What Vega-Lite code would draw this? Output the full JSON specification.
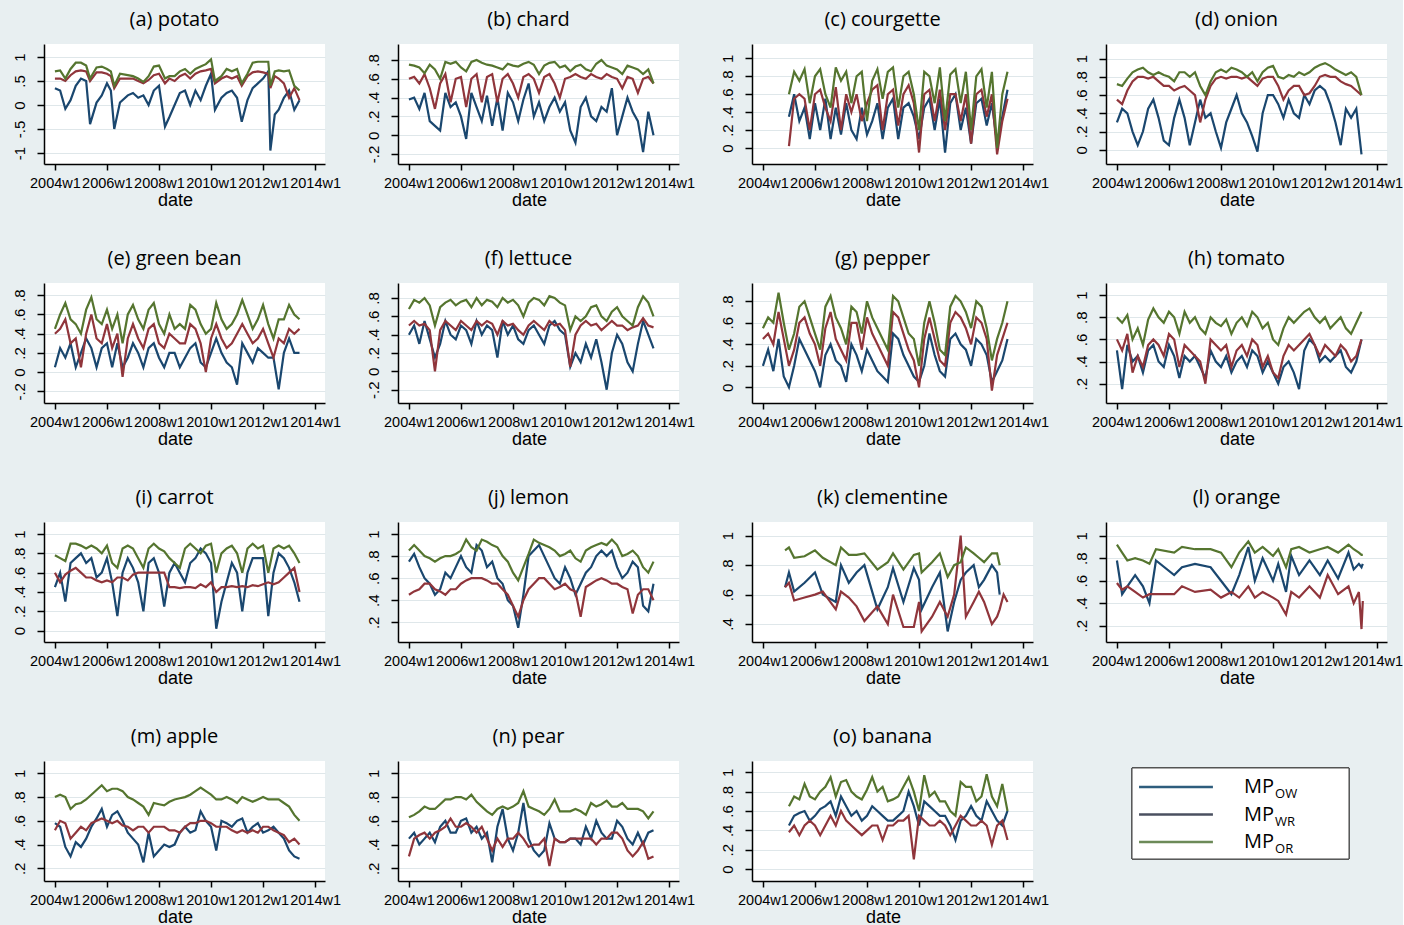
{
"$schema":"https://vega.github.io/schema/vega-lite/v6.json",
"background":"#E8EFF1",
"padding":{"left":11,"top":10,"right":0,"bottom":0},
"config":{
"view":{"fill":"white","stroke":null},
"title":{"font":"Open Sans","fontSize":20,"fontWeight":"normal","color":"#000","anchor":"middle","offset":14,"dx":-10},
"axis":{"domainColor":"#000","tickColor":"#000","labelColor":"#000","titleColor":"#000","labelFont":"Liberation Sans","titleFont":"Liberation Sans","titleFontWeight":"normal","domainWidth":1.5,"tickWidth":1.5,"tickSize":6},
"axisX":{"grid":false,"labelFontSize":14.5,"labelOverlap":false,"labelFlush":false,"labelPadding":6,"titleFontSize":18,"titleX":131,"titleY":36,"titleBaseline":"middle"},
"axisY":{"grid":true,"gridColor":"#DFE7EA","gridWidth":1,"labelAngle":-90,"labelAlign":"center","labelBaseline":"bottom","labelFontSize":15,"labelPadding":10,"tickSize":7},
"line":{"strokeWidth":2.2}
},
"datasets":{
"a":[
{"t":2004,"ow":0.35,"wr":0.55,"or":0.7},{"t":2004.2,"ow":0.3,"wr":0.55,"or":0.72},{"t":2004.4,"ow":-0.08,"wr":0.5,"or":0.55},{"t":2004.6,"ow":0.1,"wr":0.62,"or":0.75},{"t":2004.8,"ow":0.4,"wr":0.7,"or":0.88},{"t":2005,"ow":0.55,"wr":0.72,"or":0.88},{"t":2005.2,"ow":0.5,"wr":0.7,"or":0.82},{"t":2005.35,"ow":-0.4,"wr":0.5,"or":0.55},{"t":2005.6,"ow":0.05,"wr":0.68,"or":0.78},{"t":2005.8,"ow":0.2,"wr":0.68,"or":0.8},{"t":2006,"ow":0.45,"wr":0.65,"or":0.75},{"t":2006.15,"ow":0.3,"wr":0.6,"or":0.7},{"t":2006.28,"ow":-0.5,"wr":0.35,"or":0.4},{"t":2006.5,"ow":0.05,"wr":0.55,"or":0.65},{"t":2006.8,"ow":0.2,"wr":0.55,"or":0.62},{"t":2007,"ow":0.25,"wr":0.55,"or":0.6},{"t":2007.2,"ow":0.15,"wr":0.5,"or":0.55},{"t":2007.4,"ow":0.2,"wr":0.45,"or":0.48},{"t":2007.6,"ow":0,"wr":0.52,"or":0.6},{"t":2007.8,"ow":0.3,"wr":0.62,"or":0.8},{"t":2008,"ow":0.4,"wr":0.65,"or":0.82},{"t":2008.23,"ow":-0.45,"wr":0.45,"or":0.55},{"t":2008.4,"ow":-0.25,"wr":0.55,"or":0.6},{"t":2008.6,"ow":0,"wr":0.5,"or":0.6},{"t":2008.8,"ow":0.25,"wr":0.6,"or":0.7},{"t":2009,"ow":0.3,"wr":0.65,"or":0.75},{"t":2009.2,"ow":0,"wr":0.55,"or":0.65},{"t":2009.4,"ow":0.3,"wr":0.65,"or":0.75},{"t":2009.6,"ow":0.1,"wr":0.7,"or":0.8},{"t":2009.8,"ow":0.4,"wr":0.72,"or":0.85},{"t":2010,"ow":0.65,"wr":0.75,"or":0.95},{"t":2010.15,"ow":-0.1,"wr":0.45,"or":0.5},{"t":2010.4,"ow":0.15,"wr":0.55,"or":0.6},{"t":2010.6,"ow":0.25,"wr":0.6,"or":0.75},{"t":2010.8,"ow":0.3,"wr":0.55,"or":0.7},{"t":2011,"ow":0.15,"wr":0.6,"or":0.75},{"t":2011.18,"ow":-0.35,"wr":0.4,"or":0.45},{"t":2011.4,"ow":0.1,"wr":0.6,"or":0.65},{"t":2011.6,"ow":0.35,"wr":0.68,"or":0.88},{"t":2011.8,"ow":0.45,"wr":0.7,"or":0.9},{"t":2012,"ow":0.55,"wr":0.68,"or":0.9},{"t":2012.2,"ow":0.7,"wr":0.65,"or":0.9},{"t":2012.28,"ow":-0.95,"wr":0.35,"or":0.4},{"t":2012.45,"ow":-0.2,"wr":0.6,"or":0.7},{"t":2012.6,"ow":-0.1,"wr":0.55,"or":0.72},{"t":2012.8,"ow":0.15,"wr":0.45,"or":0.7},{"t":2013,"ow":0.3,"wr":0.15,"or":0.72},{"t":2013.2,"ow":-0.1,"wr":0.35,"or":0.4},{"t":2013.4,"ow":0.1,"wr":0.1,"or":0.3}],
"b":[
{"t":2004,"ow":0.38,"wr":0.6,"or":0.75},{"t":2004.2,"ow":0.4,"wr":0.62,"or":0.74},{"t":2004.4,"ow":0.28,"wr":0.55,"or":0.72},{"t":2004.6,"ow":0.45,"wr":0.65,"or":0.66},{"t":2004.8,"ow":0.15,"wr":0.5,"or":0.75},{"t":2005,"ow":0.1,"wr":0.28,"or":0.7},{"t":2005.2,"ow":0.05,"wr":0.55,"or":0.6},{"t":2005.4,"ow":0.45,"wr":0.65,"or":0.78},{"t":2005.6,"ow":0.3,"wr":0.35,"or":0.76},{"t":2005.8,"ow":0.35,"wr":0.6,"or":0.78},{"t":2006,"ow":0.2,"wr":0.62,"or":0.72},{"t":2006.2,"ow":-0.04,"wr":0.3,"or":0.68},{"t":2006.4,"ow":0.45,"wr":0.6,"or":0.78},{"t":2006.6,"ow":0.3,"wr":0.65,"or":0.8},{"t":2006.8,"ow":0.15,"wr":0.35,"or":0.77},{"t":2007,"ow":0.42,"wr":0.62,"or":0.75},{"t":2007.2,"ow":0.1,"wr":0.65,"or":0.74},{"t":2007.4,"ow":0.4,"wr":0.35,"or":0.72},{"t":2007.6,"ow":0.05,"wr":0.6,"or":0.7},{"t":2007.8,"ow":0.45,"wr":0.65,"or":0.76},{"t":2008,"ow":0.35,"wr":0.55,"or":0.74},{"t":2008.2,"ow":0.15,"wr":0.4,"or":0.73},{"t":2008.4,"ow":0.38,"wr":0.62,"or":0.76},{"t":2008.6,"ow":0.55,"wr":0.65,"or":0.78},{"t":2008.8,"ow":0.2,"wr":0.6,"or":0.75},{"t":2009,"ow":0.35,"wr":0.45,"or":0.65},{"t":2009.2,"ow":0.15,"wr":0.62,"or":0.74},{"t":2009.4,"ow":0.3,"wr":0.65,"or":0.77},{"t":2009.6,"ow":0.4,"wr":0.55,"or":0.78},{"t":2009.8,"ow":0.25,"wr":0.4,"or":0.72},{"t":2010,"ow":0.35,"wr":0.6,"or":0.74},{"t":2010.2,"ow":0.05,"wr":0.62,"or":0.68},{"t":2010.4,"ow":-0.08,"wr":0.65,"or":0.73},{"t":2010.6,"ow":0.3,"wr":0.62,"or":0.75},{"t":2010.8,"ow":0.4,"wr":0.6,"or":0.7},{"t":2011,"ow":0.2,"wr":0.65,"or":0.68},{"t":2011.2,"ow":0.15,"wr":0.62,"or":0.76},{"t":2011.4,"ow":0.3,"wr":0.6,"or":0.8},{"t":2011.6,"ow":0.25,"wr":0.65,"or":0.74},{"t":2011.8,"ow":0.5,"wr":0.62,"or":0.72},{"t":2012,"ow":0,"wr":0.6,"or":0.7},{"t":2012.2,"ow":0.2,"wr":0.5,"or":0.65},{"t":2012.4,"ow":0.4,"wr":0.62,"or":0.74},{"t":2012.6,"ow":0.25,"wr":0.6,"or":0.72},{"t":2012.8,"ow":0.15,"wr":0.45,"or":0.7},{"t":2013,"ow":-0.18,"wr":0.6,"or":0.65},{"t":2013.2,"ow":0.25,"wr":0.62,"or":0.7},{"t":2013.4,"ow":0,"wr":0.55,"or":0.55}],
"c":[
{"t":2005,"ow":0.35,"wr":0.02,"or":0.6},{"t":2005.2,"ow":0.6,"wr":0.55,"or":0.85},{"t":2005.4,"ow":0.3,"wr":0.6,"or":0.75},{"t":2005.6,"ow":0.45,"wr":0.55,"or":0.88},{"t":2005.8,"ow":0.1,"wr":0.2,"or":0.5},{"t":2006,"ow":0.5,"wr":0.6,"or":0.8},{"t":2006.2,"ow":0.2,"wr":0.65,"or":0.88},{"t":2006.4,"ow":0.55,"wr":0.45,"or":0.6},{"t":2006.6,"ow":0.1,"wr":0.3,"or":0.45},{"t":2006.8,"ow":0.45,"wr":0.68,"or":0.9},{"t":2007,"ow":0.15,"wr":0.2,"or":0.75},{"t":2007.2,"ow":0.5,"wr":0.6,"or":0.85},{"t":2007.4,"ow":0.2,"wr":0.4,"or":0.5},{"t":2007.6,"ow":0.1,"wr":0.6,"or":0.8},{"t":2007.8,"ow":0.45,"wr":0.3,"or":0.85},{"t":2008,"ow":0.15,"wr":0.5,"or":0.3},{"t":2008.2,"ow":0.3,"wr":0.65,"or":0.75},{"t":2008.4,"ow":0.5,"wr":0.7,"or":0.88},{"t":2008.6,"ow":0.1,"wr":0.2,"or":0.55},{"t":2008.8,"ow":0.45,"wr":0.6,"or":0.85},{"t":2009,"ow":0.55,"wr":0.65,"or":0.9},{"t":2009.2,"ow":0.1,"wr":0.25,"or":0.45},{"t":2009.4,"ow":0.45,"wr":0.6,"or":0.8},{"t":2009.6,"ow":0.5,"wr":0.7,"or":0.85},{"t":2009.8,"ow":0.35,"wr":0.5,"or":0.6},{"t":2010,"ow":0.1,"wr":-0.05,"or":0.2},{"t":2010.2,"ow":0.45,"wr":0.6,"or":0.85},{"t":2010.4,"ow":0.55,"wr":0.65,"or":0.8},{"t":2010.6,"ow":0.2,"wr":0.3,"or":0.5},{"t":2010.8,"ow":0.55,"wr":0.65,"or":0.9},{"t":2011,"ow":-0.05,"wr":0.2,"or":0.3},{"t":2011.2,"ow":0.5,"wr":0.6,"or":0.82},{"t":2011.4,"ow":0.6,"wr":0.6,"or":0.88},{"t":2011.6,"ow":0.2,"wr":0.3,"or":0.5},{"t":2011.8,"ow":0.45,"wr":0.6,"or":0.85},{"t":2012,"ow":0.05,"wr":0.05,"or":0.2},{"t":2012.2,"ow":0.5,"wr":0.6,"or":0.8},{"t":2012.4,"ow":0.55,"wr":0.65,"or":0.88},{"t":2012.6,"ow":0.25,"wr":0.35,"or":0.45},{"t":2012.8,"ow":0.5,"wr":0.6,"or":0.85},{"t":2013,"ow":0.05,"wr":-0.07,"or":0},{"t":2013.2,"ow":0.35,"wr":0.3,"or":0.6},{"t":2013.4,"ow":0.65,"wr":0.55,"or":0.85}],
"d":[
{"t":2004,"ow":0.3,"wr":0.55,"or":0.72},{"t":2004.2,"ow":0.45,"wr":0.5,"or":0.7},{"t":2004.4,"ow":0.4,"wr":0.65,"or":0.78},{"t":2004.6,"ow":0.2,"wr":0.75,"or":0.85},{"t":2004.8,"ow":0.05,"wr":0.8,"or":0.88},{"t":2005,"ow":0.2,"wr":0.8,"or":0.9},{"t":2005.2,"ow":0.45,"wr":0.78,"or":0.85},{"t":2005.4,"ow":0.55,"wr":0.8,"or":0.82},{"t":2005.6,"ow":0.35,"wr":0.75,"or":0.85},{"t":2005.8,"ow":0.1,"wr":0.7,"or":0.82},{"t":2006,"ow":0.05,"wr":0.7,"or":0.8},{"t":2006.2,"ow":0.35,"wr":0.65,"or":0.75},{"t":2006.4,"ow":0.55,"wr":0.68,"or":0.85},{"t":2006.6,"ow":0.35,"wr":0.7,"or":0.85},{"t":2006.8,"ow":0.05,"wr":0.65,"or":0.8},{"t":2007,"ow":0.3,"wr":0.6,"or":0.85},{"t":2007.2,"ow":0.55,"wr":0.3,"or":0.7},{"t":2007.4,"ow":0.35,"wr":0.55,"or":0.6},{"t":2007.6,"ow":0.4,"wr":0.7,"or":0.75},{"t":2007.8,"ow":0.2,"wr":0.78,"or":0.85},{"t":2008,"ow":0.02,"wr":0.8,"or":0.88},{"t":2008.2,"ow":0.3,"wr":0.78,"or":0.85},{"t":2008.4,"ow":0.45,"wr":0.8,"or":0.9},{"t":2008.6,"ow":0.6,"wr":0.8,"or":0.88},{"t":2008.8,"ow":0.4,"wr":0.78,"or":0.85},{"t":2009,"ow":0.3,"wr":0.8,"or":0.8},{"t":2009.2,"ow":0.15,"wr":0.75,"or":0.85},{"t":2009.4,"ow":-0.02,"wr":0.7,"or":0.75},{"t":2009.6,"ow":0.4,"wr":0.78,"or":0.85},{"t":2009.8,"ow":0.6,"wr":0.8,"or":0.9},{"t":2010,"ow":0.6,"wr":0.8,"or":0.92},{"t":2010.2,"ow":0.5,"wr":0.7,"or":0.8},{"t":2010.4,"ow":0.35,"wr":0.55,"or":0.78},{"t":2010.6,"ow":0.55,"wr":0.65,"or":0.82},{"t":2010.8,"ow":0.4,"wr":0.7,"or":0.8},{"t":2011,"ow":0.35,"wr":0.7,"or":0.85},{"t":2011.2,"ow":0.6,"wr":0.6,"or":0.82},{"t":2011.4,"ow":0.5,"wr":0.62,"or":0.85},{"t":2011.6,"ow":0.65,"wr":0.7,"or":0.9},{"t":2011.8,"ow":0.7,"wr":0.8,"or":0.93},{"t":2012,"ow":0.65,"wr":0.82,"or":0.95},{"t":2012.2,"ow":0.5,"wr":0.8,"or":0.92},{"t":2012.4,"ow":0.3,"wr":0.8,"or":0.88},{"t":2012.6,"ow":0.05,"wr":0.75,"or":0.85},{"t":2012.8,"ow":0.45,"wr":0.72,"or":0.82},{"t":2013,"ow":0.35,"wr":0.7,"or":0.85},{"t":2013.2,"ow":0.45,"wr":0.65,"or":0.8},{"t":2013.4,"ow":-0.05,"wr":0.6,"or":0.6}],
"e":[
{"t":2004,"ow":0.05,"wr":0.4,"or":0.45},{"t":2004.2,"ow":0.25,"wr":0.45,"or":0.6},{"t":2004.4,"ow":0.15,"wr":0.55,"or":0.72},{"t":2004.6,"ow":0.3,"wr":0.3,"or":0.55},{"t":2004.8,"ow":0.05,"wr":0.35,"or":0.5},{"t":2005,"ow":0.2,"wr":0.05,"or":0.4},{"t":2005.2,"ow":0.35,"wr":0.4,"or":0.65},{"t":2005.4,"ow":0.25,"wr":0.6,"or":0.78},{"t":2005.6,"ow":0.05,"wr":0.35,"or":0.55},{"t":2005.8,"ow":0.25,"wr":0.3,"or":0.5},{"t":2006,"ow":0.3,"wr":0.5,"or":0.65},{"t":2006.2,"ow":0.05,"wr":0.25,"or":0.45},{"t":2006.4,"ow":0.3,"wr":0.4,"or":0.6},{"t":2006.6,"ow":0.05,"wr":-0.05,"or":0.3},{"t":2006.8,"ow":0.15,"wr":0.35,"or":0.6},{"t":2007,"ow":0.3,"wr":0.5,"or":0.7},{"t":2007.2,"ow":0.2,"wr":0.35,"or":0.55},{"t":2007.4,"ow":0.05,"wr":0.25,"or":0.45},{"t":2007.6,"ow":0.25,"wr":0.45,"or":0.65},{"t":2007.8,"ow":0.3,"wr":0.5,"or":0.72},{"t":2008,"ow":0.15,"wr":0.3,"or":0.5},{"t":2008.2,"ow":0.05,"wr":0.25,"or":0.4},{"t":2008.4,"ow":0.2,"wr":0.4,"or":0.6},{"t":2008.6,"ow":0.2,"wr":0.35,"or":0.45},{"t":2008.8,"ow":0.05,"wr":0.3,"or":0.5},{"t":2009,"ow":0.15,"wr":0.3,"or":0.45},{"t":2009.2,"ow":0.25,"wr":0.5,"or":0.7},{"t":2009.4,"ow":0.3,"wr":0.45,"or":0.65},{"t":2009.6,"ow":0.1,"wr":0.3,"or":0.5},{"t":2009.8,"ow":0.05,"wr":0,"or":0.4},{"t":2010,"ow":0.2,"wr":0.35,"or":0.45},{"t":2010.2,"ow":0.35,"wr":0.5,"or":0.72},{"t":2010.4,"ow":0.2,"wr":0.35,"or":0.55},{"t":2010.6,"ow":0.1,"wr":0.25,"or":0.45},{"t":2010.8,"ow":0.05,"wr":0.3,"or":0.5},{"t":2011,"ow":-0.13,"wr":0.4,"or":0.6},{"t":2011.2,"ow":0.3,"wr":0.5,"or":0.75},{"t":2011.4,"ow":0.2,"wr":0.4,"or":0.6},{"t":2011.6,"ow":0.1,"wr":0.3,"or":0.45},{"t":2011.8,"ow":0.25,"wr":0.35,"or":0.55},{"t":2012,"ow":0.2,"wr":0.45,"or":0.7},{"t":2012.2,"ow":0.15,"wr":0.3,"or":0.5},{"t":2012.4,"ow":0.15,"wr":0.15,"or":0.35},{"t":2012.6,"ow":-0.18,"wr":0.35,"or":0.55},{"t":2012.8,"ow":0.2,"wr":0.3,"or":0.55},{"t":2013,"ow":0.35,"wr":0.45,"or":0.7},{"t":2013.2,"ow":0.2,"wr":0.4,"or":0.6},{"t":2013.4,"ow":0.2,"wr":0.45,"or":0.55}],
"f":[
{"t":2004,"ow":0.4,"wr":0.5,"or":0.68},{"t":2004.2,"ow":0.5,"wr":0.55,"or":0.78},{"t":2004.4,"ow":0.3,"wr":0.5,"or":0.75},{"t":2004.6,"ow":0.55,"wr":0.52,"or":0.8},{"t":2004.8,"ow":0.35,"wr":0.45,"or":0.72},{"t":2005,"ow":0.15,"wr":0,"or":0.5},{"t":2005.2,"ow":0.3,"wr":0.45,"or":0.7},{"t":2005.4,"ow":0.55,"wr":0.55,"or":0.75},{"t":2005.6,"ow":0.4,"wr":0.5,"or":0.78},{"t":2005.8,"ow":0.35,"wr":0.45,"or":0.72},{"t":2006,"ow":0.5,"wr":0.55,"or":0.76},{"t":2006.2,"ow":0.45,"wr":0.5,"or":0.78},{"t":2006.4,"ow":0.3,"wr":0.45,"or":0.7},{"t":2006.6,"ow":0.55,"wr":0.55,"or":0.8},{"t":2006.8,"ow":0.4,"wr":0.5,"or":0.72},{"t":2007,"ow":0.5,"wr":0.55,"or":0.78},{"t":2007.2,"ow":0.45,"wr":0.52,"or":0.76},{"t":2007.4,"ow":0.15,"wr":0.4,"or":0.7},{"t":2007.6,"ow":0.55,"wr":0.55,"or":0.8},{"t":2007.8,"ow":0.4,"wr":0.5,"or":0.75},{"t":2008,"ow":0.5,"wr":0.52,"or":0.78},{"t":2008.2,"ow":0.35,"wr":0.45,"or":0.72},{"t":2008.4,"ow":0.3,"wr":0.4,"or":0.6},{"t":2008.6,"ow":0.45,"wr":0.5,"or":0.75},{"t":2008.8,"ow":0.5,"wr":0.55,"or":0.8},{"t":2009,"ow":0.4,"wr":0.5,"or":0.78},{"t":2009.2,"ow":0.3,"wr":0.45,"or":0.72},{"t":2009.4,"ow":0.5,"wr":0.55,"or":0.82},{"t":2009.6,"ow":0.55,"wr":0.5,"or":0.8},{"t":2009.8,"ow":0.45,"wr":0.52,"or":0.75},{"t":2010,"ow":0.4,"wr":0.45,"or":0.72},{"t":2010.2,"ow":0.05,"wr":0.05,"or":0.45},{"t":2010.4,"ow":0.2,"wr":0.4,"or":0.6},{"t":2010.6,"ow":0.1,"wr":0.5,"or":0.55},{"t":2010.8,"ow":0.3,"wr":0.55,"or":0.6},{"t":2011,"ow":0.15,"wr":0.5,"or":0.7},{"t":2011.2,"ow":0.35,"wr":0.52,"or":0.72},{"t":2011.4,"ow":0.1,"wr":0.45,"or":0.6},{"t":2011.6,"ow":-0.2,"wr":0.5,"or":0.55},{"t":2011.8,"ow":0.2,"wr":0.55,"or":0.65},{"t":2012,"ow":0.4,"wr":0.5,"or":0.7},{"t":2012.2,"ow":0.3,"wr":0.5,"or":0.6},{"t":2012.4,"ow":0.1,"wr":0.45,"or":0.55},{"t":2012.6,"ow":0,"wr":0.48,"or":0.5},{"t":2012.8,"ow":0.3,"wr":0.5,"or":0.7},{"t":2013,"ow":0.55,"wr":0.58,"or":0.82},{"t":2013.2,"ow":0.4,"wr":0.5,"or":0.75},{"t":2013.4,"ow":0.25,"wr":0.48,"or":0.6}],
"g":[
{"t":2004,"ow":0.2,"wr":0.45,"or":0.55},{"t":2004.2,"ow":0.35,"wr":0.5,"or":0.65},{"t":2004.4,"ow":0.15,"wr":0.4,"or":0.6},{"t":2004.6,"ow":0.45,"wr":0.7,"or":0.88},{"t":2004.8,"ow":0.1,"wr":0.45,"or":0.6},{"t":2005,"ow":0,"wr":0.2,"or":0.35},{"t":2005.2,"ow":0.2,"wr":0.35,"or":0.5},{"t":2005.4,"ow":0.45,"wr":0.6,"or":0.75},{"t":2005.6,"ow":0.35,"wr":0.65,"or":0.8},{"t":2005.8,"ow":0.25,"wr":0.5,"or":0.65},{"t":2006,"ow":0.15,"wr":0.4,"or":0.5},{"t":2006.2,"ow":0,"wr":0.2,"or":0.35},{"t":2006.4,"ow":0.3,"wr":0.55,"or":0.75},{"t":2006.6,"ow":0.4,"wr":0.7,"or":0.85},{"t":2006.8,"ow":0.25,"wr":0.45,"or":0.65},{"t":2007,"ow":0.2,"wr":0.35,"or":0.55},{"t":2007.2,"ow":0.05,"wr":0.25,"or":0.4},{"t":2007.4,"ow":0.4,"wr":0.6,"or":0.75},{"t":2007.6,"ow":0.3,"wr":0.6,"or":0.7},{"t":2007.8,"ow":0.15,"wr":0.35,"or":0.5},{"t":2008,"ow":0.35,"wr":0.65,"or":0.8},{"t":2008.2,"ow":0.25,"wr":0.5,"or":0.65},{"t":2008.4,"ow":0.15,"wr":0.4,"or":0.55},{"t":2008.6,"ow":0.1,"wr":0.3,"or":0.45},{"t":2008.8,"ow":0.05,"wr":0.2,"or":0.35},{"t":2009,"ow":0.5,"wr":0.7,"or":0.85},{"t":2009.2,"ow":0.45,"wr":0.65,"or":0.8},{"t":2009.4,"ow":0.3,"wr":0.5,"or":0.65},{"t":2009.6,"ow":0.2,"wr":0.35,"or":0.5},{"t":2009.8,"ow":0.1,"wr":0.25,"or":0.45},{"t":2010,"ow":0.05,"wr":0,"or":0.2},{"t":2010.2,"ow":0.2,"wr":0.45,"or":0.6},{"t":2010.4,"ow":0.5,"wr":0.65,"or":0.8},{"t":2010.6,"ow":0.3,"wr":0.45,"or":0.6},{"t":2010.8,"ow":0.15,"wr":0.25,"or":0.35},{"t":2011,"ow":0.1,"wr":0.2,"or":0.3},{"t":2011.2,"ow":0.45,"wr":0.6,"or":0.75},{"t":2011.4,"ow":0.5,"wr":0.7,"or":0.85},{"t":2011.6,"ow":0.4,"wr":0.65,"or":0.8},{"t":2011.8,"ow":0.35,"wr":0.55,"or":0.7},{"t":2012,"ow":0.2,"wr":0.4,"or":0.55},{"t":2012.2,"ow":0.45,"wr":0.65,"or":0.8},{"t":2012.4,"ow":0.4,"wr":0.6,"or":0.75},{"t":2012.6,"ow":0.3,"wr":0.45,"or":0.55},{"t":2012.8,"ow":0.05,"wr":-0.03,"or":0.25},{"t":2013,"ow":0.15,"wr":0.3,"or":0.45},{"t":2013.2,"ow":0.25,"wr":0.45,"or":0.6},{"t":2013.4,"ow":0.45,"wr":0.6,"or":0.8}],
"h":[
{"t":2004,"ow":0.5,"wr":0.6,"or":0.8},{"t":2004.2,"ow":0.15,"wr":0.5,"or":0.75},{"t":2004.4,"ow":0.55,"wr":0.65,"or":0.82},{"t":2004.6,"ow":0.4,"wr":0.3,"or":0.6},{"t":2004.8,"ow":0.45,"wr":0.45,"or":0.7},{"t":2005,"ow":0.3,"wr":0.35,"or":0.55},{"t":2005.2,"ow":0.5,"wr":0.55,"or":0.78},{"t":2005.4,"ow":0.55,"wr":0.6,"or":0.88},{"t":2005.6,"ow":0.4,"wr":0.55,"or":0.8},{"t":2005.8,"ow":0.35,"wr":0.45,"or":0.75},{"t":2006,"ow":0.55,"wr":0.65,"or":0.85},{"t":2006.2,"ow":0.45,"wr":0.6,"or":0.8},{"t":2006.4,"ow":0.25,"wr":0.35,"or":0.65},{"t":2006.6,"ow":0.45,"wr":0.55,"or":0.85},{"t":2006.8,"ow":0.4,"wr":0.5,"or":0.75},{"t":2007,"ow":0.45,"wr":0.45,"or":0.8},{"t":2007.2,"ow":0.35,"wr":0.4,"or":0.7},{"t":2007.4,"ow":0.25,"wr":0.2,"or":0.65},{"t":2007.6,"ow":0.5,"wr":0.6,"or":0.8},{"t":2007.8,"ow":0.4,"wr":0.55,"or":0.75},{"t":2008,"ow":0.35,"wr":0.5,"or":0.72},{"t":2008.2,"ow":0.45,"wr":0.55,"or":0.78},{"t":2008.4,"ow":0.3,"wr":0.35,"or":0.65},{"t":2008.6,"ow":0.4,"wr":0.5,"or":0.75},{"t":2008.8,"ow":0.45,"wr":0.55,"or":0.8},{"t":2009,"ow":0.35,"wr":0.45,"or":0.72},{"t":2009.2,"ow":0.5,"wr":0.6,"or":0.85},{"t":2009.4,"ow":0.45,"wr":0.55,"or":0.8},{"t":2009.6,"ow":0.3,"wr":0.35,"or":0.7},{"t":2009.8,"ow":0.4,"wr":0.45,"or":0.75},{"t":2010,"ow":0.3,"wr":0.3,"or":0.6},{"t":2010.2,"ow":0.2,"wr":0.25,"or":0.55},{"t":2010.4,"ow":0.35,"wr":0.45,"or":0.7},{"t":2010.6,"ow":0.4,"wr":0.55,"or":0.8},{"t":2010.8,"ow":0.3,"wr":0.5,"or":0.75},{"t":2011,"ow":0.15,"wr":0.55,"or":0.8},{"t":2011.2,"ow":0.5,"wr":0.6,"or":0.85},{"t":2011.4,"ow":0.6,"wr":0.65,"or":0.88},{"t":2011.6,"ow":0.55,"wr":0.55,"or":0.8},{"t":2011.8,"ow":0.4,"wr":0.45,"or":0.75},{"t":2012,"ow":0.45,"wr":0.55,"or":0.8},{"t":2012.2,"ow":0.4,"wr":0.5,"or":0.7},{"t":2012.4,"ow":0.45,"wr":0.45,"or":0.75},{"t":2012.6,"ow":0.5,"wr":0.55,"or":0.8},{"t":2012.8,"ow":0.35,"wr":0.5,"or":0.7},{"t":2013,"ow":0.3,"wr":0.4,"or":0.65},{"t":2013.2,"ow":0.4,"wr":0.45,"or":0.75},{"t":2013.4,"ow":0.6,"wr":0.6,"or":0.85}],
"i":[
{"t":2004,"ow":0.45,"wr":0.6,"or":0.78},{"t":2004.2,"ow":0.6,"wr":0.5,"or":0.75},{"t":2004.4,"ow":0.3,"wr":0.58,"or":0.72},{"t":2004.6,"ow":0.7,"wr":0.62,"or":0.9},{"t":2004.8,"ow":0.75,"wr":0.65,"or":0.9},{"t":2005,"ow":0.8,"wr":0.6,"or":0.88},{"t":2005.2,"ow":0.7,"wr":0.55,"or":0.85},{"t":2005.4,"ow":0.75,"wr":0.55,"or":0.88},{"t":2005.6,"ow":0.55,"wr":0.52,"or":0.85},{"t":2005.8,"ow":0.6,"wr":0.5,"or":0.8},{"t":2006,"ow":0.75,"wr":0.52,"or":0.88},{"t":2006.2,"ow":0.5,"wr":0.5,"or":0.7},{"t":2006.4,"ow":0.15,"wr":0.55,"or":0.65},{"t":2006.6,"ow":0.6,"wr":0.55,"or":0.85},{"t":2006.8,"ow":0.75,"wr":0.52,"or":0.88},{"t":2007,"ow":0.65,"wr":0.58,"or":0.85},{"t":2007.2,"ow":0.5,"wr":0.6,"or":0.75},{"t":2007.4,"ow":0.2,"wr":0.6,"or":0.65},{"t":2007.6,"ow":0.7,"wr":0.6,"or":0.85},{"t":2007.8,"ow":0.75,"wr":0.6,"or":0.9},{"t":2008,"ow":0.6,"wr":0.6,"or":0.85},{"t":2008.2,"ow":0.25,"wr":0.6,"or":0.82},{"t":2008.4,"ow":0.6,"wr":0.45,"or":0.75},{"t":2008.6,"ow":0.7,"wr":0.45,"or":0.7},{"t":2008.8,"ow":0.6,"wr":0.44,"or":0.65},{"t":2009,"ow":0.5,"wr":0.45,"or":0.85},{"t":2009.2,"ow":0.7,"wr":0.45,"or":0.9},{"t":2009.4,"ow":0.75,"wr":0.44,"or":0.85},{"t":2009.6,"ow":0.85,"wr":0.48,"or":0.8},{"t":2009.8,"ow":0.8,"wr":0.45,"or":0.88},{"t":2010,"ow":0.7,"wr":0.5,"or":0.9},{"t":2010.2,"ow":0.02,"wr":0.4,"or":0.6},{"t":2010.4,"ow":0.3,"wr":0.45,"or":0.8},{"t":2010.6,"ow":0.5,"wr":0.45,"or":0.85},{"t":2010.8,"ow":0.7,"wr":0.46,"or":0.88},{"t":2011,"ow":0.6,"wr":0.45,"or":0.8},{"t":2011.2,"ow":0.2,"wr":0.46,"or":0.6},{"t":2011.4,"ow":0.6,"wr":0.45,"or":0.85},{"t":2011.6,"ow":0.75,"wr":0.47,"or":0.9},{"t":2011.8,"ow":0.75,"wr":0.46,"or":0.85},{"t":2012,"ow":0.75,"wr":0.48,"or":0.88},{"t":2012.2,"ow":0.15,"wr":0.5,"or":0.6},{"t":2012.4,"ow":0.6,"wr":0.48,"or":0.85},{"t":2012.6,"ow":0.8,"wr":0.5,"or":0.88},{"t":2012.8,"ow":0.75,"wr":0.55,"or":0.85},{"t":2013,"ow":0.65,"wr":0.6,"or":0.88},{"t":2013.2,"ow":0.5,"wr":0.65,"or":0.8},{"t":2013.4,"ow":0.3,"wr":0.4,"or":0.7}],
"j":[
{"t":2004,"ow":0.75,"wr":0.45,"or":0.85},{"t":2004.2,"ow":0.82,"wr":0.48,"or":0.9},{"t":2004.4,"ow":0.7,"wr":0.5,"or":0.85},{"t":2004.6,"ow":0.6,"wr":0.55,"or":0.8},{"t":2004.8,"ow":0.55,"wr":0.55,"or":0.78},{"t":2005,"ow":0.45,"wr":0.5,"or":0.75},{"t":2005.2,"ow":0.5,"wr":0.48,"or":0.78},{"t":2005.4,"ow":0.65,"wr":0.45,"or":0.8},{"t":2005.6,"ow":0.6,"wr":0.5,"or":0.8},{"t":2005.8,"ow":0.7,"wr":0.5,"or":0.82},{"t":2006,"ow":0.8,"wr":0.55,"or":0.85},{"t":2006.2,"ow":0.7,"wr":0.58,"or":0.95},{"t":2006.4,"ow":0.65,"wr":0.6,"or":0.88},{"t":2006.6,"ow":0.9,"wr":0.6,"or":0.85},{"t":2006.8,"ow":0.85,"wr":0.6,"or":0.95},{"t":2007,"ow":0.7,"wr":0.58,"or":0.93},{"t":2007.2,"ow":0.75,"wr":0.55,"or":0.9},{"t":2007.4,"ow":0.6,"wr":0.55,"or":0.88},{"t":2007.6,"ow":0.55,"wr":0.5,"or":0.8},{"t":2007.8,"ow":0.4,"wr":0.45,"or":0.75},{"t":2008,"ow":0.35,"wr":0.35,"or":0.65},{"t":2008.2,"ow":0.15,"wr":0.25,"or":0.58},{"t":2008.4,"ow":0.45,"wr":0.4,"or":0.7},{"t":2008.6,"ow":0.8,"wr":0.5,"or":0.82},{"t":2008.8,"ow":0.85,"wr":0.55,"or":0.95},{"t":2009,"ow":0.9,"wr":0.6,"or":0.92},{"t":2009.2,"ow":0.8,"wr":0.6,"or":0.9},{"t":2009.4,"ow":0.7,"wr":0.55,"or":0.88},{"t":2009.6,"ow":0.6,"wr":0.5,"or":0.85},{"t":2009.8,"ow":0.55,"wr":0.52,"or":0.8},{"t":2010,"ow":0.7,"wr":0.55,"or":0.82},{"t":2010.2,"ow":0.6,"wr":0.5,"or":0.85},{"t":2010.4,"ow":0.45,"wr":0.48,"or":0.78},{"t":2010.6,"ow":0.55,"wr":0.25,"or":0.75},{"t":2010.8,"ow":0.65,"wr":0.52,"or":0.85},{"t":2011,"ow":0.7,"wr":0.55,"or":0.88},{"t":2011.2,"ow":0.8,"wr":0.58,"or":0.9},{"t":2011.4,"ow":0.85,"wr":0.6,"or":0.92},{"t":2011.6,"ow":0.8,"wr":0.58,"or":0.9},{"t":2011.8,"ow":0.85,"wr":0.55,"or":0.95},{"t":2012,"ow":0.7,"wr":0.55,"or":0.9},{"t":2012.2,"ow":0.6,"wr":0.52,"or":0.8},{"t":2012.4,"ow":0.65,"wr":0.5,"or":0.82},{"t":2012.6,"ow":0.75,"wr":0.28,"or":0.85},{"t":2012.8,"ow":0.7,"wr":0.45,"or":0.8},{"t":2013,"ow":0.35,"wr":0.5,"or":0.7},{"t":2013.2,"ow":0.3,"wr":0.5,"or":0.65},{"t":2013.4,"ow":0.55,"wr":0.4,"or":0.75}],
"k":[
{"t":2004.85,"ow":0.65,"wr":0.65,"or":0.9},{"t":2005,"ow":0.75,"wr":0.68,"or":0.92},{"t":2005.2,"ow":0.62,"wr":0.56,"or":0.85},{"t":2005.6,"ow":0.68,"wr":0.58,"or":0.86},{"t":2006,"ow":0.75,"wr":0.6,"or":0.9},{"t":2006.3,"ow":0.6,"wr":0.62,"or":0.85},{"t":2006.8,"ow":0.55,"wr":0.5,"or":0.8},{"t":2007,"ow":0.8,"wr":0.62,"or":0.92},{"t":2007.3,"ow":0.68,"wr":0.58,"or":0.87},{"t":2007.6,"ow":0.75,"wr":0.52,"or":0.87},{"t":2007.9,"ow":0.8,"wr":0.42,"or":0.88},{"t":2008.4,"ow":0.5,"wr":0.52,"or":0.77},{"t":2008.8,"ow":0.65,"wr":0.4,"or":0.82},{"t":2009,"ow":0.78,"wr":0.6,"or":0.88},{"t":2009.4,"ow":0.55,"wr":0.38,"or":0.77},{"t":2009.8,"ow":0.78,"wr":0.38,"or":0.87},{"t":2010,"ow":0.7,"wr":0.55,"or":0.88},{"t":2010.1,"ow":0.5,"wr":0.35,"or":0.75},{"t":2010.5,"ow":0.65,"wr":0.45,"or":0.82},{"t":2010.8,"ow":0.75,"wr":0.55,"or":0.88},{"t":2011.1,"ow":0.35,"wr":0.45,"or":0.72},{"t":2011.35,"ow":0.55,"wr":0.6,"or":0.8},{"t":2011.6,"ow":0.7,"wr":1.0,"or":0.82},{"t":2011.8,"ow":0.75,"wr":0.45,"or":0.92},{"t":2012.1,"ow":0.8,"wr":0.55,"or":0.88},{"t":2012.3,"ow":0.65,"wr":0.62,"or":0.85},{"t":2012.5,"ow":0.7,"wr":0.55,"or":0.82},{"t":2012.8,"ow":0.8,"wr":0.4,"or":0.88},{"t":2013,"ow":0.75,"wr":0.45,"or":0.88},{"t":2013.1,"ow":0.6,"wr":0.5,"or":0.8},{"t":2013.25,"wr":0.6},{"t":2013.4,"wr":0.55}],
"l":[
{"t":2004,"ow":0.78,"wr":0.58,"or":0.92},{"t":2004.2,"ow":0.48,"wr":0.52,"or":0.85},{"t":2004.4,"ow":0.55,"wr":0.55,"or":0.78},{"t":2004.7,"ow":0.65,"wr":0.5,"or":0.8},{"t":2005,"ow":0.55,"wr":0.45,"or":0.78},{"t":2005.25,"ow":0.4,"wr":0.48,"or":0.75},{"t":2005.5,"ow":0.78,"wr":0.48,"or":0.88},{"t":2006.2,"ow":0.65,"wr":0.48,"or":0.85},{"t":2006.5,"ow":0.72,"wr":0.55,"or":0.9},{"t":2007,"ow":0.75,"wr":0.5,"or":0.88},{"t":2007.6,"ow":0.72,"wr":0.52,"or":0.88},{"t":2008,"ow":0.6,"wr":0.45,"or":0.85},{"t":2008.4,"ow":0.48,"wr":0.5,"or":0.72},{"t":2008.7,"ow":0.65,"wr":0.45,"or":0.85},{"t":2009.05,"ow":0.9,"wr":0.55,"or":0.95},{"t":2009.3,"ow":0.6,"wr":0.45,"or":0.85},{"t":2009.6,"ow":0.8,"wr":0.5,"or":0.9},{"t":2010,"ow":0.6,"wr":0.45,"or":0.82},{"t":2010.2,"ow":0.75,"wr":0.42,"or":0.88},{"t":2010.5,"ow":0.5,"wr":0.3,"or":0.72},{"t":2010.7,"ow":0.82,"wr":0.5,"or":0.88},{"t":2011,"ow":0.65,"wr":0.45,"or":0.9},{"t":2011.4,"ow":0.78,"wr":0.55,"or":0.85},{"t":2011.8,"ow":0.65,"wr":0.45,"or":0.88},{"t":2012.1,"ow":0.78,"wr":0.65,"or":0.9},{"t":2012.5,"ow":0.62,"wr":0.48,"or":0.85},{"t":2012.9,"ow":0.85,"wr":0.55,"or":0.92},{"t":2013.1,"ow":0.7,"wr":0.4,"or":0.88},{"t":2013.3,"ow":0.75,"wr":0.5,"or":0.85},{"t":2013.4,"ow":0.72,"wr":0.17,"or":0.83},{"t":2013.45,"ow":0.75,"wr":0.42,"or":0.83}],
"m":[
{"t":2004,"ow":0.58,"wr":0.52,"or":0.8},{"t":2004.2,"ow":0.55,"wr":0.6,"or":0.82},{"t":2004.4,"ow":0.38,"wr":0.58,"or":0.8},{"t":2004.6,"ow":0.3,"wr":0.45,"or":0.7},{"t":2004.8,"ow":0.42,"wr":0.5,"or":0.74},{"t":2005,"ow":0.38,"wr":0.55,"or":0.75},{"t":2005.2,"ow":0.45,"wr":0.52,"or":0.78},{"t":2005.4,"ow":0.55,"wr":0.58,"or":0.82},{"t":2005.6,"ow":0.62,"wr":0.6,"or":0.86},{"t":2005.8,"ow":0.7,"wr":0.62,"or":0.9},{"t":2006,"ow":0.55,"wr":0.6,"or":0.85},{"t":2006.2,"ow":0.65,"wr":0.58,"or":0.87},{"t":2006.4,"ow":0.68,"wr":0.6,"or":0.87},{"t":2006.6,"ow":0.6,"wr":0.56,"or":0.85},{"t":2006.8,"ow":0.5,"wr":0.55,"or":0.8},{"t":2007,"ow":0.45,"wr":0.52,"or":0.78},{"t":2007.2,"ow":0.4,"wr":0.55,"or":0.75},{"t":2007.4,"ow":0.25,"wr":0.55,"or":0.72},{"t":2007.6,"ow":0.5,"wr":0.5,"or":0.65},{"t":2007.8,"ow":0.3,"wr":0.55,"or":0.75},{"t":2008,"ow":0.35,"wr":0.55,"or":0.74},{"t":2008.2,"ow":0.4,"wr":0.55,"or":0.73},{"t":2008.4,"ow":0.38,"wr":0.52,"or":0.76},{"t":2008.6,"ow":0.4,"wr":0.52,"or":0.78},{"t":2008.8,"ow":0.5,"wr":0.5,"or":0.79},{"t":2009,"ow":0.55,"wr":0.55,"or":0.8},{"t":2009.2,"ow":0.5,"wr":0.58,"or":0.82},{"t":2009.4,"ow":0.52,"wr":0.58,"or":0.85},{"t":2009.6,"ow":0.68,"wr":0.6,"or":0.88},{"t":2009.8,"ow":0.6,"wr":0.6,"or":0.85},{"t":2010,"ow":0.55,"wr":0.58,"or":0.82},{"t":2010.2,"ow":0.35,"wr":0.55,"or":0.78},{"t":2010.4,"ow":0.6,"wr":0.55,"or":0.78},{"t":2010.6,"ow":0.58,"wr":0.55,"or":0.8},{"t":2010.8,"ow":0.55,"wr":0.52,"or":0.78},{"t":2011,"ow":0.6,"wr":0.5,"or":0.75},{"t":2011.2,"ow":0.62,"wr":0.52,"or":0.8},{"t":2011.4,"ow":0.5,"wr":0.5,"or":0.78},{"t":2011.6,"ow":0.55,"wr":0.52,"or":0.76},{"t":2011.8,"ow":0.58,"wr":0.5,"or":0.78},{"t":2012,"ow":0.5,"wr":0.55,"or":0.8},{"t":2012.2,"ow":0.52,"wr":0.55,"or":0.78},{"t":2012.4,"ow":0.55,"wr":0.52,"or":0.78},{"t":2012.6,"ow":0.5,"wr":0.5,"or":0.78},{"t":2012.8,"ow":0.45,"wr":0.48,"or":0.75},{"t":2013,"ow":0.35,"wr":0.42,"or":0.72},{"t":2013.2,"ow":0.3,"wr":0.45,"or":0.65},{"t":2013.4,"ow":0.28,"wr":0.4,"or":0.6}],
"n":[
{"t":2004,"ow":0.45,"wr":0.3,"or":0.63},{"t":2004.2,"ow":0.5,"wr":0.45,"or":0.65},{"t":2004.4,"ow":0.4,"wr":0.48,"or":0.68},{"t":2004.6,"ow":0.45,"wr":0.5,"or":0.72},{"t":2004.8,"ow":0.5,"wr":0.45,"or":0.7},{"t":2005,"ow":0.42,"wr":0.5,"or":0.7},{"t":2005.2,"ow":0.55,"wr":0.52,"or":0.74},{"t":2005.4,"ow":0.6,"wr":0.55,"or":0.78},{"t":2005.6,"ow":0.5,"wr":0.62,"or":0.78},{"t":2005.8,"ow":0.5,"wr":0.55,"or":0.8},{"t":2006,"ow":0.6,"wr":0.55,"or":0.8},{"t":2006.2,"ow":0.62,"wr":0.58,"or":0.78},{"t":2006.4,"ow":0.5,"wr":0.55,"or":0.82},{"t":2006.6,"ow":0.55,"wr":0.5,"or":0.76},{"t":2006.8,"ow":0.45,"wr":0.55,"or":0.72},{"t":2007,"ow":0.5,"wr":0.45,"or":0.68},{"t":2007.2,"ow":0.25,"wr":0.35,"or":0.65},{"t":2007.4,"ow":0.55,"wr":0.45,"or":0.7},{"t":2007.6,"ow":0.7,"wr":0.38,"or":0.72},{"t":2007.8,"ow":0.45,"wr":0.45,"or":0.7},{"t":2008,"ow":0.35,"wr":0.45,"or":0.72},{"t":2008.2,"ow":0.5,"wr":0.5,"or":0.75},{"t":2008.4,"ow":0.75,"wr":0.45,"or":0.85},{"t":2008.6,"ow":0.45,"wr":0.38,"or":0.72},{"t":2008.8,"ow":0.35,"wr":0.4,"or":0.7},{"t":2009,"ow":0.3,"wr":0.4,"or":0.68},{"t":2009.2,"ow":0.35,"wr":0.45,"or":0.65},{"t":2009.4,"ow":0.58,"wr":0.22,"or":0.7},{"t":2009.6,"ow":0.45,"wr":0.45,"or":0.78},{"t":2009.8,"ow":0.42,"wr":0.42,"or":0.68},{"t":2010,"ow":0.42,"wr":0.42,"or":0.68},{"t":2010.2,"ow":0.45,"wr":0.45,"or":0.68},{"t":2010.4,"ow":0.45,"wr":0.45,"or":0.7},{"t":2010.6,"ow":0.4,"wr":0.45,"or":0.68},{"t":2010.8,"ow":0.55,"wr":0.45,"or":0.65},{"t":2011,"ow":0.45,"wr":0.45,"or":0.75},{"t":2011.2,"ow":0.6,"wr":0.4,"or":0.72},{"t":2011.4,"ow":0.5,"wr":0.45,"or":0.74},{"t":2011.6,"ow":0.45,"wr":0.45,"or":0.77},{"t":2011.8,"ow":0.45,"wr":0.5,"or":0.72},{"t":2012,"ow":0.6,"wr":0.5,"or":0.72},{"t":2012.2,"ow":0.55,"wr":0.45,"or":0.75},{"t":2012.4,"ow":0.45,"wr":0.35,"or":0.7},{"t":2012.6,"ow":0.4,"wr":0.3,"or":0.7},{"t":2012.8,"ow":0.5,"wr":0.35,"or":0.7},{"t":2013,"ow":0.4,"wr":0.42,"or":0.68},{"t":2013.2,"ow":0.5,"wr":0.28,"or":0.62},{"t":2013.4,"ow":0.52,"wr":0.3,"or":0.68}],
"o":[
{"t":2005,"ow":0.45,"wr":0.38,"or":0.65},{"t":2005.2,"ow":0.55,"wr":0.45,"or":0.75},{"t":2005.4,"ow":0.58,"wr":0.35,"or":0.72},{"t":2005.6,"ow":0.6,"wr":0.45,"or":0.88},{"t":2005.8,"ow":0.5,"wr":0.5,"or":0.75},{"t":2006,"ow":0.55,"wr":0.45,"or":0.72},{"t":2006.2,"ow":0.62,"wr":0.35,"or":0.8},{"t":2006.4,"ow":0.65,"wr":0.45,"or":0.85},{"t":2006.6,"ow":0.7,"wr":0.55,"or":0.95},{"t":2006.8,"ow":0.55,"wr":0.45,"or":0.75},{"t":2007,"ow":0.75,"wr":0.6,"or":0.9},{"t":2007.2,"ow":0.65,"wr":0.5,"or":0.92},{"t":2007.4,"ow":0.55,"wr":0.45,"or":0.8},{"t":2007.6,"ow":0.6,"wr":0.4,"or":0.75},{"t":2007.8,"ow":0.5,"wr":0.35,"or":0.72},{"t":2008,"ow":0.55,"wr":0.4,"or":0.82},{"t":2008.2,"ow":0.65,"wr":0.45,"or":0.95},{"t":2008.4,"ow":0.6,"wr":0.45,"or":0.8},{"t":2008.6,"ow":0.55,"wr":0.3,"or":0.85},{"t":2008.8,"ow":0.5,"wr":0.45,"or":0.7},{"t":2009,"ow":0.5,"wr":0.45,"or":0.72},{"t":2009.2,"ow":0.55,"wr":0.5,"or":0.75},{"t":2009.4,"ow":0.6,"wr":0.5,"or":0.85},{"t":2009.6,"ow":0.8,"wr":0.55,"or":0.95},{"t":2009.8,"ow":0.65,"wr":0.1,"or":0.8},{"t":2010,"ow":0.45,"wr":0.55,"or":0.6},{"t":2010.2,"ow":0.7,"wr":0.5,"or":0.97},{"t":2010.4,"ow":0.65,"wr":0.45,"or":0.75},{"t":2010.6,"ow":0.6,"wr":0.45,"or":0.8},{"t":2010.8,"ow":0.55,"wr":0.5,"or":0.7},{"t":2011,"ow":0.55,"wr":0.45,"or":0.7},{"t":2011.2,"ow":0.45,"wr":0.35,"or":0.6},{"t":2011.4,"ow":0.3,"wr":0.45,"or":0.55},{"t":2011.6,"ow":0.5,"wr":0.55,"or":0.9},{"t":2011.8,"ow":0.55,"wr":0.5,"or":0.85},{"t":2012,"ow":0.65,"wr":0.45,"or":0.85},{"t":2012.2,"ow":0.55,"wr":0.45,"or":0.7},{"t":2012.4,"ow":0.5,"wr":0.5,"or":0.75},{"t":2012.6,"ow":0.7,"wr":0.45,"or":0.98},{"t":2012.8,"ow":0.6,"wr":0.25,"or":0.75},{"t":2013,"ow":0.5,"wr":0.45,"or":0.65},{"t":2013.2,"ow":0.45,"wr":0.5,"or":0.88},{"t":2013.4,"ow":0.6,"wr":0.3,"or":0.6}],
"leg":[{"s":"ow","lab":"MP","sub":"OW"},{"s":"wr","lab":"MP","sub":"WR"},{"s":"or","lab":"MP","sub":"OR"}]
},
"columns":4,
"spacing":{"row":119,"column":73},
"bounds":"flush",
"resolve":{"scale":{"x":"independent","y":"independent","color":"independent"}},
"concat":[
{"title":"(a) potato","width":281,"height":120,"data":{"name":"a"},"transform":[{"fold":["ow","wr","or"],"as":["s","v"]}],"mark":"line","encoding":{"x":{"field":"t","type":"quantitative","title":"date","scale":{"domain":[2003.58,2014.38],"nice":false,"zero":false},"axis":{"values":[2004,2006,2008,2010,2012,2014],"labelExpr":"datum.value + 'w1'"}},"y":{"field":"v","type":"quantitative","title":null,"scale":{"domain":[-1.23,1.27],"nice":false,"zero":false},"axis":{"values":[-1,-0.5,0,0.5,1],"labelExpr":"(datum.value < 0 ? '-' : '') + replace(format(abs(datum.value), '~g'), regexp('^0[.]'), '.')"}},"color":{"field":"s","type":"nominal","scale":{"domain":["ow","wr","or"],"range":["#1A476F","#90353B","#55752F"]},"legend":null}}},
{"title":"(b) chard","width":281,"height":120,"data":{"name":"b"},"transform":[{"fold":["ow","wr","or"],"as":["s","v"]}],"mark":"line","encoding":{"x":{"field":"t","type":"quantitative","title":"date","scale":{"domain":[2003.58,2014.38],"nice":false,"zero":false},"axis":{"values":[2004,2006,2008,2010,2012,2014],"labelExpr":"datum.value + 'w1'"}},"y":{"field":"v","type":"quantitative","title":null,"scale":{"domain":[-0.306,0.97],"nice":false,"zero":false},"axis":{"values":[-0.2,0,0.2,0.4,0.6,0.8],"labelExpr":"(datum.value < 0 ? '-' : '') + replace(format(abs(datum.value), '~g'), regexp('^0[.]'), '.')"}},"color":{"field":"s","type":"nominal","scale":{"domain":["ow","wr","or"],"range":["#1A476F","#90353B","#55752F"]},"legend":null}}},
{"title":"(c) courgette","width":281,"height":120,"data":{"name":"c"},"transform":[{"fold":["ow","wr","or"],"as":["s","v"]}],"mark":"line","encoding":{"x":{"field":"t","type":"quantitative","title":"date","scale":{"domain":[2003.58,2014.38],"nice":false,"zero":false},"axis":{"values":[2004,2006,2008,2010,2012,2014],"labelExpr":"datum.value + 'w1'"}},"y":{"field":"v","type":"quantitative","title":null,"scale":{"domain":[-0.178,1.16],"nice":false,"zero":false},"axis":{"values":[0,0.2,0.4,0.6,0.8,1],"labelExpr":"(datum.value < 0 ? '-' : '') + replace(format(abs(datum.value), '~g'), regexp('^0[.]'), '.')"}},"color":{"field":"s","type":"nominal","scale":{"domain":["ow","wr","or"],"range":["#1A476F","#90353B","#55752F"]},"legend":null}}},
{"title":"(d) onion","width":281,"height":120,"data":{"name":"d"},"transform":[{"fold":["ow","wr","or"],"as":["s","v"]}],"mark":"line","encoding":{"x":{"field":"t","type":"quantitative","title":"date","scale":{"domain":[2003.58,2014.38],"nice":false,"zero":false},"axis":{"values":[2004,2006,2008,2010,2012,2014],"labelExpr":"datum.value + 'w1'"}},"y":{"field":"v","type":"quantitative","title":null,"scale":{"domain":[-0.156,1.16],"nice":false,"zero":false},"axis":{"values":[0,0.2,0.4,0.6,0.8,1],"labelExpr":"(datum.value < 0 ? '-' : '') + replace(format(abs(datum.value), '~g'), regexp('^0[.]'), '.')"}},"color":{"field":"s","type":"nominal","scale":{"domain":["ow","wr","or"],"range":["#1A476F","#90353B","#55752F"]},"legend":null}}},
{"title":"(e) green bean","width":281,"height":120,"data":{"name":"e"},"transform":[{"fold":["ow","wr","or"],"as":["s","v"]}],"mark":"line","encoding":{"x":{"field":"t","type":"quantitative","title":"date","scale":{"domain":[2003.58,2014.38],"nice":false,"zero":false},"axis":{"values":[2004,2006,2008,2010,2012,2014],"labelExpr":"datum.value + 'w1'"}},"y":{"field":"v","type":"quantitative","title":null,"scale":{"domain":[-0.322,0.928],"nice":false,"zero":false},"axis":{"values":[-0.2,0,0.2,0.4,0.6,0.8],"labelExpr":"(datum.value < 0 ? '-' : '') + replace(format(abs(datum.value), '~g'), regexp('^0[.]'), '.')"}},"color":{"field":"s","type":"nominal","scale":{"domain":["ow","wr","or"],"range":["#1A476F","#90353B","#55752F"]},"legend":null}}},
{"title":"(f) lettuce","width":281,"height":120,"data":{"name":"f"},"transform":[{"fold":["ow","wr","or"],"as":["s","v"]}],"mark":"line","encoding":{"x":{"field":"t","type":"quantitative","title":"date","scale":{"domain":[2003.58,2014.38],"nice":false,"zero":false},"axis":{"values":[2004,2006,2008,2010,2012,2014],"labelExpr":"datum.value + 'w1'"}},"y":{"field":"v","type":"quantitative","title":null,"scale":{"domain":[-0.345,0.964],"nice":false,"zero":false},"axis":{"values":[-0.2,0,0.2,0.4,0.6,0.8],"labelExpr":"(datum.value < 0 ? '-' : '') + replace(format(abs(datum.value), '~g'), regexp('^0[.]'), '.')"}},"color":{"field":"s","type":"nominal","scale":{"domain":["ow","wr","or"],"range":["#1A476F","#90353B","#55752F"]},"legend":null}}},
{"title":"(g) pepper","width":281,"height":120,"data":{"name":"g"},"transform":[{"fold":["ow","wr","or"],"as":["s","v"]}],"mark":"line","encoding":{"x":{"field":"t","type":"quantitative","title":"date","scale":{"domain":[2003.58,2014.38],"nice":false,"zero":false},"axis":{"values":[2004,2006,2008,2010,2012,2014],"labelExpr":"datum.value + 'w1'"}},"y":{"field":"v","type":"quantitative","title":null,"scale":{"domain":[-0.146,0.97],"nice":false,"zero":false},"axis":{"values":[0,0.2,0.4,0.6,0.8],"labelExpr":"(datum.value < 0 ? '-' : '') + replace(format(abs(datum.value), '~g'), regexp('^0[.]'), '.')"}},"color":{"field":"s","type":"nominal","scale":{"domain":["ow","wr","or"],"range":["#1A476F","#90353B","#55752F"]},"legend":null}}},
{"title":"(h) tomato","width":281,"height":120,"data":{"name":"h"},"transform":[{"fold":["ow","wr","or"],"as":["s","v"]}],"mark":"line","encoding":{"x":{"field":"t","type":"quantitative","title":"date","scale":{"domain":[2003.58,2014.38],"nice":false,"zero":false},"axis":{"values":[2004,2006,2008,2010,2012,2014],"labelExpr":"datum.value + 'w1'"}},"y":{"field":"v","type":"quantitative","title":null,"scale":{"domain":[0.025,1.11],"nice":false,"zero":false},"axis":{"values":[0.2,0.4,0.6,0.8,1],"labelExpr":"(datum.value < 0 ? '-' : '') + replace(format(abs(datum.value), '~g'), regexp('^0[.]'), '.')"}},"color":{"field":"s","type":"nominal","scale":{"domain":["ow","wr","or"],"range":["#1A476F","#90353B","#55752F"]},"legend":null}}},
{"title":"(i) carrot","width":281,"height":120,"data":{"name":"i"},"transform":[{"fold":["ow","wr","or"],"as":["s","v"]}],"mark":"line","encoding":{"x":{"field":"t","type":"quantitative","title":"date","scale":{"domain":[2003.58,2014.38],"nice":false,"zero":false},"axis":{"values":[2004,2006,2008,2010,2012,2014],"labelExpr":"datum.value + 'w1'"}},"y":{"field":"v","type":"quantitative","title":null,"scale":{"domain":[-0.117,1.124],"nice":false,"zero":false},"axis":{"values":[0,0.2,0.4,0.6,0.8,1],"labelExpr":"(datum.value < 0 ? '-' : '') + replace(format(abs(datum.value), '~g'), regexp('^0[.]'), '.')"}},"color":{"field":"s","type":"nominal","scale":{"domain":["ow","wr","or"],"range":["#1A476F","#90353B","#55752F"]},"legend":null}}},
{"title":"(j) lemon","width":281,"height":120,"data":{"name":"j"},"transform":[{"fold":["ow","wr","or"],"as":["s","v"]}],"mark":"line","encoding":{"x":{"field":"t","type":"quantitative","title":"date","scale":{"domain":[2003.58,2014.38],"nice":false,"zero":false},"axis":{"values":[2004,2006,2008,2010,2012,2014],"labelExpr":"datum.value + 'w1'"}},"y":{"field":"v","type":"quantitative","title":null,"scale":{"domain":[0.022,1.109],"nice":false,"zero":false},"axis":{"values":[0.2,0.4,0.6,0.8,1],"labelExpr":"(datum.value < 0 ? '-' : '') + replace(format(abs(datum.value), '~g'), regexp('^0[.]'), '.')"}},"color":{"field":"s","type":"nominal","scale":{"domain":["ow","wr","or"],"range":["#1A476F","#90353B","#55752F"]},"legend":null}}},
{"title":"(k) clementine","width":281,"height":120,"data":{"name":"k"},"transform":[{"fold":["ow","wr","or"],"as":["s","v"]}],"mark":"line","encoding":{"x":{"field":"t","type":"quantitative","title":"date","scale":{"domain":[2003.58,2014.38],"nice":false,"zero":false},"axis":{"values":[2004,2006,2008,2010,2012,2014],"labelExpr":"datum.value + 'w1'"}},"y":{"field":"v","type":"quantitative","title":null,"scale":{"domain":[0.278,1.093],"nice":false,"zero":false},"axis":{"values":[0.4,0.6,0.8,1],"labelExpr":"(datum.value < 0 ? '-' : '') + replace(format(abs(datum.value), '~g'), regexp('^0[.]'), '.')"}},"color":{"field":"s","type":"nominal","scale":{"domain":["ow","wr","or"],"range":["#1A476F","#90353B","#55752F"]},"legend":null}}},
{"title":"(l) orange","width":281,"height":120,"data":{"name":"l"},"transform":[{"fold":["ow","wr","or"],"as":["s","v"]}],"mark":"line","encoding":{"x":{"field":"t","type":"quantitative","title":"date","scale":{"domain":[2003.58,2014.38],"nice":false,"zero":false},"axis":{"values":[2004,2006,2008,2010,2012,2014],"labelExpr":"datum.value + 'w1'"}},"y":{"field":"v","type":"quantitative","title":null,"scale":{"domain":[0.055,1.122],"nice":false,"zero":false},"axis":{"values":[0.2,0.4,0.6,0.8,1],"labelExpr":"(datum.value < 0 ? '-' : '') + replace(format(abs(datum.value), '~g'), regexp('^0[.]'), '.')"}},"color":{"field":"s","type":"nominal","scale":{"domain":["ow","wr","or"],"range":["#1A476F","#90353B","#55752F"]},"legend":null}}},
{"title":"(m) apple","width":281,"height":120,"data":{"name":"m"},"transform":[{"fold":["ow","wr","or"],"as":["s","v"]}],"mark":"line","encoding":{"x":{"field":"t","type":"quantitative","title":"date","scale":{"domain":[2003.58,2014.38],"nice":false,"zero":false},"axis":{"values":[2004,2006,2008,2010,2012,2014],"labelExpr":"datum.value + 'w1'"}},"y":{"field":"v","type":"quantitative","title":null,"scale":{"domain":[0.093,1.104],"nice":false,"zero":false},"axis":{"values":[0.2,0.4,0.6,0.8,1],"labelExpr":"(datum.value < 0 ? '-' : '') + replace(format(abs(datum.value), '~g'), regexp('^0[.]'), '.')"}},"color":{"field":"s","type":"nominal","scale":{"domain":["ow","wr","or"],"range":["#1A476F","#90353B","#55752F"]},"legend":null}}},
{"title":"(n) pear","width":281,"height":120,"data":{"name":"n"},"transform":[{"fold":["ow","wr","or"],"as":["s","v"]}],"mark":"line","encoding":{"x":{"field":"t","type":"quantitative","title":"date","scale":{"domain":[2003.58,2014.38],"nice":false,"zero":false},"axis":{"values":[2004,2006,2008,2010,2012,2014],"labelExpr":"datum.value + 'w1'"}},"y":{"field":"v","type":"quantitative","title":null,"scale":{"domain":[0.093,1.104],"nice":false,"zero":false},"axis":{"values":[0.2,0.4,0.6,0.8,1],"labelExpr":"(datum.value < 0 ? '-' : '') + replace(format(abs(datum.value), '~g'), regexp('^0[.]'), '.')"}},"color":{"field":"s","type":"nominal","scale":{"domain":["ow","wr","or"],"range":["#1A476F","#90353B","#55752F"]},"legend":null}}},
{"title":"(o) banana","width":281,"height":120,"data":{"name":"o"},"transform":[{"fold":["ow","wr","or"],"as":["s","v"]}],"mark":"line","encoding":{"x":{"field":"t","type":"quantitative","title":"date","scale":{"domain":[2003.58,2014.38],"nice":false,"zero":false},"axis":{"values":[2004,2006,2008,2010,2012,2014],"labelExpr":"datum.value + 'w1'"}},"y":{"field":"v","type":"quantitative","title":null,"scale":{"domain":[-0.124,1.117],"nice":false,"zero":false},"axis":{"values":[0,0.2,0.4,0.6,0.8,1],"labelExpr":"(datum.value < 0 ? '-' : '') + replace(format(abs(datum.value), '~g'), regexp('^0[.]'), '.')"}},"color":{"field":"s","type":"nominal","scale":{"domain":["ow","wr","or"],"range":["#1A476F","#90353B","#55752F"]},"legend":null}}},
{"width":243,"height":98,"view":{"fill":null,"stroke":null},"data":{"name":"leg"},
"resolve":{"scale":{"y":"independent"}},
"layer":[
{"mark":{"type":"rect","fill":"white","stroke":"#444444","strokeWidth":1},"encoding":{"x":{"datum":0.107,"type":"quantitative","scale":{"domain":[0,1],"nice":false,"zero":false},"axis":null},"x2":{"datum":1},"y":{"datum":0,"type":"quantitative","scale":{"domain":[0,1],"nice":false,"zero":false},"axis":null},"y2":{"datum":0.929}}},
{"encoding":{"y":{"field":"s","type":"nominal","scale":{"type":"point","domain":["ow","wr","or"],"range":[26,81],"padding":0},"axis":null}},
"layer":[
{"mark":{"type":"rule","strokeWidth":2.5},"encoding":{"x":{"datum":0.136,"type":"quantitative"},"x2":{"datum":0.44},"color":{"field":"s","type":"nominal","scale":{"domain":["ow","wr","or"],"range":["#2E5D7D","#4A5060","#6C8A58"]},"legend":null}}},
{"mark":{"type":"text","align":"left","baseline":"middle","font":"Open Sans","fontSize":20,"color":"#000"},"encoding":{"x":{"datum":0.568,"type":"quantitative"},"text":{"field":"lab"}}},
{"mark":{"type":"text","align":"left","baseline":"middle","font":"Open Sans","fontSize":13,"dx":31,"dy":7,"color":"#000"},"encoding":{"x":{"datum":0.568,"type":"quantitative"},"text":{"field":"sub"}}}
]}
]}
]
}
